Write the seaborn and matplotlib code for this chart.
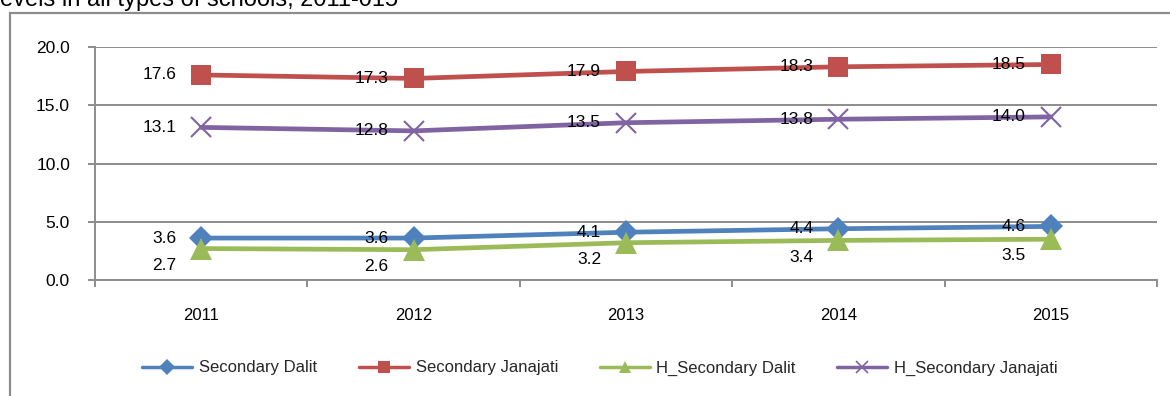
import matplotlib
matplotlib.use("Agg")
import matplotlib.pyplot as plt
import seaborn as sns
import pandas as pd
from matplotlib.patches import Rectangle

years = ["2011", "2012", "2013", "2014", "2015"]
secondary_dalit = [3.6, 3.6, 4.1, 4.4, 4.6]
secondary_janajati = [17.6, 17.3, 17.9, 18.3, 18.5]
h_secondary_dalit = [2.7, 2.6, 3.2, 3.4, 3.5]
h_secondary_janajati = [13.1, 12.8, 13.5, 13.8, 14.0]
series_names = ["Secondary Dalit", "Secondary Janajati", "H_Secondary Dalit", "H_Secondary Janajati"]
title_text = "evels in all types of schools, 2011-015"

series_values = [secondary_dalit, secondary_janajati, h_secondary_dalit, h_secondary_janajati]

colors = {"Secondary Dalit": "#4F81BD", "Secondary Janajati": "#C0504D",
          "H_Secondary Dalit": "#9BBB59", "H_Secondary Janajati": "#8064A2"}
markers = {"Secondary Dalit": "D", "Secondary Janajati": "s",
           "H_Secondary Dalit": "^", "H_Secondary Janajati": "x"}
msize = {"Secondary Dalit": 12, "Secondary Janajati": 14,
         "H_Secondary Dalit": 16, "H_Secondary Janajati": 14}

sns.set_theme(style="white")
plt.rcParams["font.family"] = ["Liberation Sans", "DejaVu Sans"]

fig = plt.figure(figsize=(11.7, 3.96), dpi=100)
ax = fig.add_axes([95 / 1170, 1 - 280 / 396, (1157 - 95) / 1170, (280 - 47) / 396])

grid_c = "#8C8C8C"
for y in [0, 5, 10, 15, 20]:
    ax.axhline(y, color=grid_c, lw=1.4, zorder=0)

for name, vals in zip(series_names, series_values):
    d = pd.DataFrame({"pos": list(range(len(vals))), "value": vals})
    sns.lineplot(data=d, x="pos", y="value", color=colors[name], lw=3.4,
                 marker=markers[name], markersize=msize[name],
                 ax=ax, label=name, zorder=3)

for line in ax.lines:
    lab = line.get_label()
    if lab in markers:
        line.set_markersize(msize[lab])
        line.set_markeredgecolor(colors[lab])
        line.set_markerfacecolor(colors[lab])
        line.set_markeredgewidth(1.5 if markers[lab] == "x" else 0)

ax.set_xlim(-0.5, 4.5)
ax.set_ylim(0, 20)
ax.set_xlabel("")
ax.set_ylabel("")

ax.set_yticks([0, 5, 10, 15, 20])
ax.set_yticklabels([f"{v:.1f}" for v in [0, 5, 10, 15, 20]], fontsize=12.5, color="black")
ax.set_xticks(range(5))
ax.set_xticklabels(years, fontsize=12, color="black")
ax.set_xticks([-0.5, 0.5, 1.5, 2.5, 3.5, 4.5], minor=True)
ax.tick_params(axis="x", which="major", length=0, pad=20)
ax.tick_params(axis="x", which="minor", length=5, width=1.4, color=grid_c, direction="out", bottom=True)
ax.tick_params(axis="y", length=5, width=1.4, color=grid_c, direction="out", pad=13, left=True)

for s in ["top", "right"]:
    ax.spines[s].set_visible(False)
ax.spines["left"].set_color(grid_c)
ax.spines["left"].set_linewidth(1.4)
ax.spines["bottom"].set_color(grid_c)
ax.spines["bottom"].set_linewidth(1.4)

# data labels
for name, vals in zip(series_names, series_values):
    dy = -12 if name == "H_Secondary Dalit" else 0
    for i, v in enumerate(vals):
        ax.annotate(f"{v:.1f}", (i, v), xytext=(-18, dy), textcoords="offset points",
                    ha="right", va="center", fontsize=12.5, color="black", zorder=5)

# legend
from matplotlib.lines import Line2D
handles = [Line2D([], [], color=colors[n], lw=2.5, marker=markers[n], markersize=8,
                  markerfacecolor=colors[n], markeredgecolor=colors[n],
                  markeredgewidth=1.2 if markers[n] == "x" else 0) for n in series_names]
ax.legend(handles, series_names, loc="center", bbox_to_anchor=(600 / 1170, 1 - 368 / 396),
          bbox_transform=fig.transFigure, ncol=4, frameon=False, fontsize=12,
          handlelength=3.0, handletextpad=0.4, columnspacing=2.5)

# outer chart frame
fig.patches.append(Rectangle((10 / 1170, -0.1), 1.2, 1 - 13 / 396 + 0.1,
                             transform=fig.transFigure, fill=False,
                             edgecolor="#8C8C8C", lw=1.6, zorder=0))

fig.text(0.0, 1 - 6 / 396, title_text, fontsize=17, ha="left", va="baseline", color="black")

fig.savefig("out.png", dpi=100)
